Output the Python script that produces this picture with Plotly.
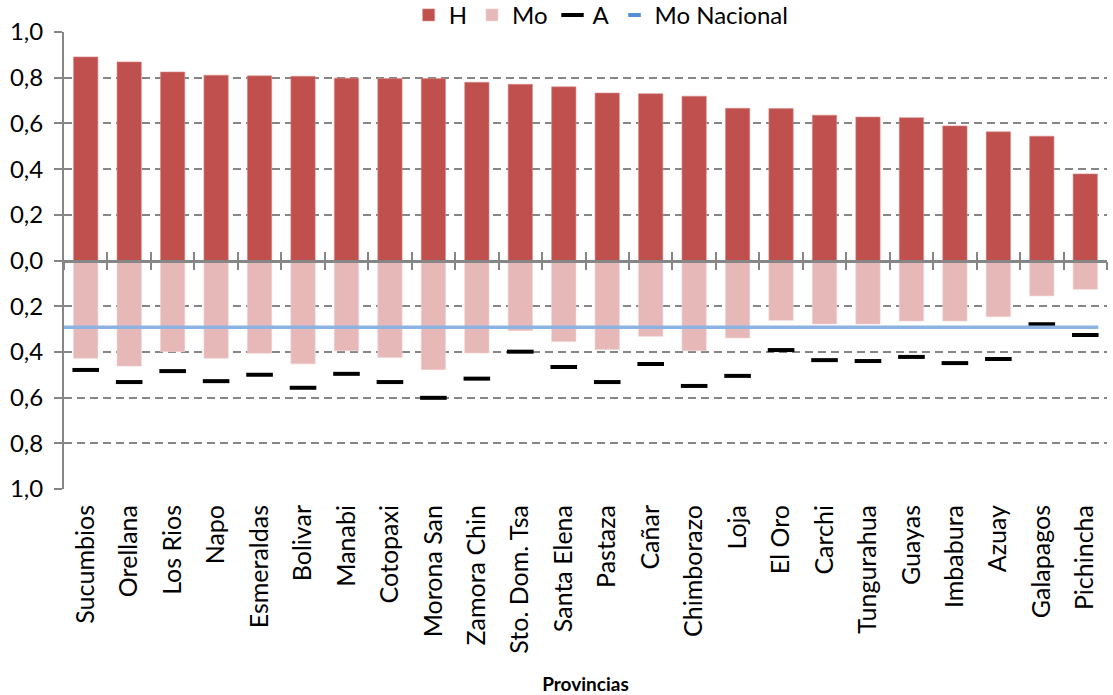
import plotly.graph_objects as go

# Provincias, ordered by H
provincias = [
    "Sucumbios", "Orellana", "Los Rios", "Napo", "Esmeraldas", "Bolivar",
    "Manabi", "Cotopaxi", "Morona San", "Zamora Chin", "Sto. Dom. Tsa",
    "Santa Elena", "Pastaza", "Cañar", "Chimborazo", "Loja", "El Oro",
    "Carchi", "Tungurahua", "Guayas", "Imbabura", "Azuay", "Galapagos",
    "Pichincha",
]
H = [0.891, 0.869, 0.825, 0.811, 0.808, 0.806, 0.798, 0.796, 0.796, 0.780,
     0.771, 0.760, 0.733, 0.730, 0.719, 0.666, 0.665, 0.636, 0.628, 0.625,
     0.589, 0.563, 0.544, 0.379]
Mo = [0.428, 0.462, 0.399, 0.428, 0.406, 0.452, 0.395, 0.425, 0.478, 0.405,
      0.307, 0.355, 0.389, 0.332, 0.395, 0.339, 0.262, 0.278, 0.278, 0.265,
      0.265, 0.246, 0.155, 0.126]
A = [0.479, 0.532, 0.484, 0.528, 0.500, 0.557, 0.496, 0.532, 0.601, 0.517,
     0.399, 0.466, 0.532, 0.453, 0.549, 0.505, 0.392, 0.436, 0.440, 0.422,
     0.449, 0.431, 0.279, 0.326]
MO_NACIONAL = 0.292

y_ticks = [1.0, 0.8, 0.6, 0.4, 0.2, 0.0, -0.2, -0.4, -0.6, -0.8, -1.0]
y_ticktext = [f"{abs(v):.1f}".replace(".", ",") for v in y_ticks]

n = len(provincias)
xs = list(range(n))
FONT = "Lato"
GRID = "#868686"
BAR_W = 0.56

fig = go.Figure()
fig.add_trace(go.Bar(
    x=xs, y=H, name="H", width=BAR_W,
    marker=dict(color="#C0504D", line=dict(color="#D98C8A", width=0.6)),
))
fig.add_trace(go.Bar(
    x=xs, y=[-v for v in Mo], name="Mo", width=BAR_W,
    marker=dict(color="#E6B9B8", line=dict(color="#F0D2D1", width=0.6)),
))
fig.add_trace(go.Scatter(
    x=xs, y=[-v for v in A], name="A", mode="markers",
    marker=dict(symbol="line-ew", size=19, color="black",
                line=dict(color="black", width=4)),
))
# national reference level, drawn across the provinces
fig.add_trace(go.Scatter(
    x=[-0.5, n - 1 + 0.3], y=[-MO_NACIONAL, -MO_NACIONAL], mode="lines",
    line=dict(color="#8DB3E2", width=3.5), showlegend=False, hoverinfo="skip",
))
fig.add_trace(go.Scatter(
    x=[None], y=[None], name="Mo Nacional", mode="markers",
    marker=dict(symbol="line-ew", size=9, color="#558ED5",
                line=dict(color="#558ED5", width=4)),
))

# zero axis with ticks crossing it at category boundaries
bounds = [i - 0.5 for i in range(n + 1)]
for name, side in (("xaxis2", "outside"), ("xaxis3", "inside")):
    fig.update_layout(**{name: dict(
        overlaying="x", anchor="free", position=0.5, side="bottom",
        range=[-0.5, n - 0.5], showgrid=False, zeroline=False,
        showline=True, linecolor=GRID, linewidth=2.5,
        tickmode="array", tickvals=bounds, showticklabels=False,
        ticks=side, ticklen=8, tickwidth=1.5, tickcolor=GRID,
    )})
for tr_axis in ("x2", "x3"):
    fig.add_trace(go.Scatter(x=[None], y=[None], xaxis=tr_axis,
                             showlegend=False, hoverinfo="skip"))

fig.update_layout(
    width=1113, height=695,
    margin=dict(l=64, r=6, t=32, b=206, autoexpand=False),
    paper_bgcolor="white", plot_bgcolor="white",
    barmode="relative",
    font=dict(family=FONT, size=25, color="black"),
    showlegend=True,
    legend=dict(orientation="h", x=0.515, xanchor="center",
                yref="container", y=0.978, yanchor="middle",
                font=dict(size=24), itemwidth=30,
                bgcolor="rgba(0,0,0,0)"),
    xaxis=dict(
        range=[-0.5, n - 0.5], tickmode="array", tickvals=xs,
        ticktext=provincias, tickangle=-90, showgrid=False, zeroline=False,
        showline=False, ticks="", tickfont=dict(size=25),
        ticklabelstandoff=10,
        title=dict(text="<b>Provincias</b>", font=dict(size=19), standoff=28),
    ),
    yaxis=dict(
        range=[-1.0, 1.0], tickmode="array", tickvals=y_ticks,
        ticktext=y_ticktext, showgrid=True, gridcolor=GRID, gridwidth=1.5,
        griddash="8px,5px", zeroline=False, showline=True, linecolor=GRID,
        linewidth=2, ticks="outside", ticklen=8, tickcolor=GRID, tickwidth=1.5,
        tickfont=dict(size=24), ticklabelstandoff=6,
    ),
)

fig.write_html("out.html")
